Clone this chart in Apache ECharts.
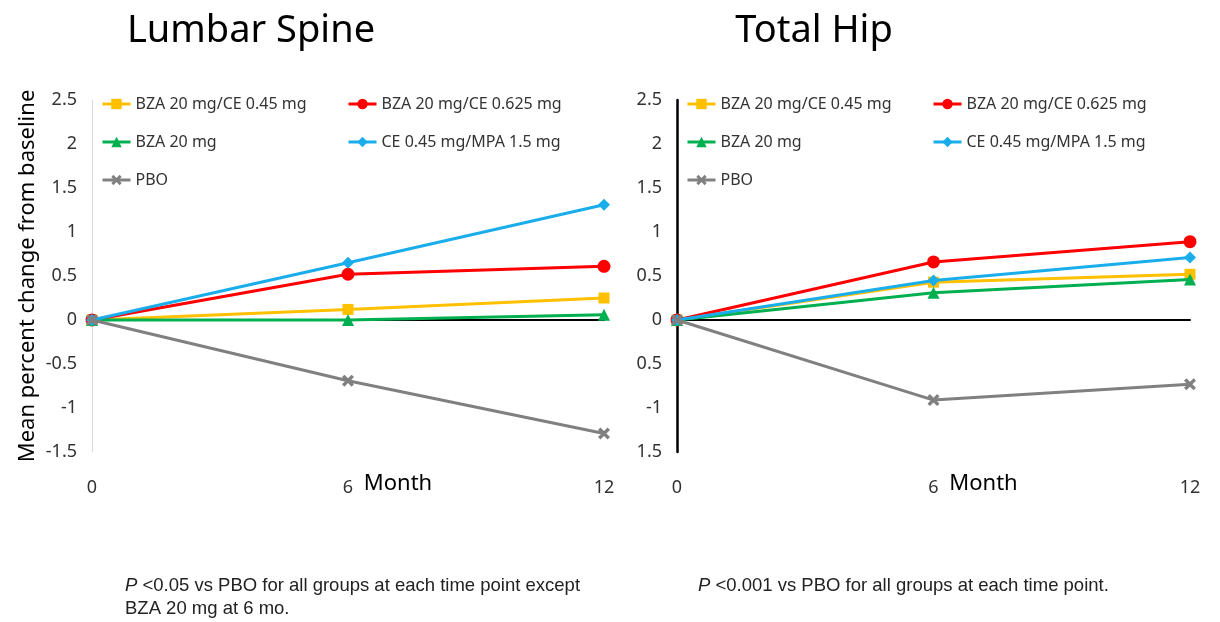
<!DOCTYPE html>
<html>
<head>
<meta charset="utf-8">
<script src="https://cdn.jsdelivr.net/npm/echarts@6/dist/echarts.min.js"></script>
<style>
  html, body { margin: 0; padding: 0; background: #fff; }
  #chart { width: 1220px; height: 622px; }
</style>
</head>
<body>
<div id="chart"></div>
<script>
// Months since baseline
const months = [0, 6, 12];

// Series names
const groupNames = [
  'BZA 20 mg/CE 0.45 mg',
  'BZA 20 mg/CE 0.625 mg',
  'BZA 20 mg',
  'CE 0.45 mg/MPA 1.5 mg',
  'PBO'
];

// Lumbar spine: mean percent change from baseline
const spineBza045 = [0, 0.12, 0.25];
const spineBza0625 = [0, 0.52, 0.61];
const spineBza20 = [0, 0.00, 0.06];
const spineCeMpa = [0, 0.65, 1.31];
const spinePbo = [0, -0.69, -1.29];

// Total hip: mean percent change from baseline
const hipBza045 = [0, 0.43, 0.52];
const hipBza0625 = [0, 0.66, 0.89];
const hipBza20 = [0, 0.31, 0.46];
const hipCeMpa = [0, 0.45, 0.71];
const hipPbo = [0, -0.91, -0.73];

// Y tick values and the labels printed next to them
const yTicks = [-1.5, -1, -0.5, 0, 0.5, 1, 1.5, 2, 2.5];
const spineTickLabels = ['-1.5', '-1', '-0.5', '0', '0.5', '1', '1.5', '2', '2.5'];
const hipTickLabels = ['1.5', '-1', '0.5', '0', '0.5', '1', '1.5', '2', '2.5'];

const colors = ['#FFC000', '#FF0000', '#00B050', '#1AADEB', '#808080'];
const crossPath = 'path://M2,0 L5,3 L8,0 L10,2 L7,5 L10,8 L8,10 L5,7 L2,10 L0,8 L3,5 L0,2 Z';
const symbols = ['rect', 'circle', 'triangle', 'diamond', crossPath];
const symbolSizes = [11, 13, 12, 12, 12];

const textColor = '#333';
const fontFamily = '"Noto Sans", "Liberation Sans", sans-serif';
const noteFont = '"Liberation Sans", sans-serif';

function pair(values) {
  return months.map((m, i) => [m, values[i]]);
}

function buildSeries(gridIdx, valueSets) {
  return valueSets.map((vals, k) => {
    const s = {
      name: groupNames[k],
      type: 'line',
      xAxisIndex: gridIdx,
      yAxisIndex: gridIdx,
      data: pair(vals),
      symbol: symbols[k],
      symbolSize: symbolSizes[k],
      showAllSymbol: true,
      lineStyle: { color: colors[k], width: 3 },
      itemStyle: { color: colors[k] },
      emphasis: { disabled: true },
      z: 3 + k
    };
    if (k === 0) {
      // dotted reference line at zero change
      s.markLine = {
        silent: true,
        symbol: 'none',
        label: { show: false },
        lineStyle: { color: '#000', type: [2, 1.5], width: 2 },
        data: [{ yAxis: 0 }],
        z: 2
      };
    }
    return s;
  });
}

function xAxisFor(gridIdx) {
  return {
    type: 'value',
    gridIndex: gridIdx,
    min: 0,
    max: 12,
    interval: 6,
    axisLine: { show: true, lineStyle: { color: '#000', width: 2 } },
    axisTick: { show: false },
    splitLine: { show: false },
    axisLabel: { color: textColor, fontSize: 18, margin: 27, fontFamily },
    name: 'Month',
    nameLocation: 'middle',
    nameGap: 21,
    nameMoveOverlap: false,
    nameTextStyle: { color: '#000', fontSize: 22, fontFamily, padding: [0, 0, 0, 100] }
  };
}

function yAxisFor(gridIdx, labels, lineColor, lineWidth) {
  return {
    type: 'value',
    gridIndex: gridIdx,
    min: -1.5,
    max: 2.5,
    interval: 0.5,
    axisLine: { show: true, onZero: false, lineStyle: { color: lineColor, width: lineWidth } },
    axisTick: { show: false },
    splitLine: { show: false },
    axisLabel: {
      color: textColor,
      fontSize: 18,
      margin: 15,
      fontFamily,
      formatter: (v) => {
        const i = yTicks.findIndex(t => Math.abs(t - v) < 1e-9);
        return i >= 0 ? labels[i] : '';
      }
    }
  };
}

function legendsFor(col1Left, col2Left) {
  const common = {
    orient: 'vertical',
    top: 96,
    padding: 0,
    itemWidth: 28,
    itemHeight: 13,
    itemGap: 22,
    selectedMode: false,
    lineStyle: { width: 3 },
    textStyle: { color: textColor, fontSize: 16, fontFamily }
  };
  return [
    Object.assign({}, common, { left: col1Left, data: [groupNames[0], groupNames[2], groupNames[4]] }),
    Object.assign({}, common, { left: col2Left, data: [groupNames[1], groupNames[3]] })
  ];
}

const chart = echarts.init(document.getElementById('chart'), null, { renderer: 'canvas' });

chart.setOption({
  backgroundColor: '#fff',
  animation: false,
  color: colors,
  title: [
    { text: 'Lumbar Spine', left: 246, top: 7, textAlign: 'center',
      textStyle: { color: '#000', fontSize: 38, fontWeight: 'normal', fontFamily } },
    { text: 'Total Hip', left: 809, top: 7, textAlign: 'center',
      textStyle: { color: '#000', fontSize: 38, fontWeight: 'normal', fontFamily } }
  ],
  legend: legendsFor(101, 347).concat(legendsFor(686, 932)),
  grid: [
    { left: 92, width: 512, top: 100, height: 352 },
    { left: 677, width: 513, top: 100, height: 352 }
  ],
  xAxis: [xAxisFor(0), xAxisFor(1)],
  yAxis: [
    Object.assign(yAxisFor(0, spineTickLabels, '#D9D9D9', 1), {
      name: 'Mean percent change from baseline',
      nameLocation: 'middle',
      nameGap: 53,
      nameTextStyle: { color: '#000', fontSize: 22, fontFamily }
    }),
    yAxisFor(1, hipTickLabels, '#000', 2.5)
  ],
  series: buildSeries(0, [spineBza045, spineBza0625, spineBza20, spineCeMpa, spinePbo])
    .concat(buildSeries(1, [hipBza045, hipBza0625, hipBza20, hipCeMpa, hipPbo])),
  graphic: [
    {
      type: 'text', left: 125, top: 574,
      style: {
        text: '{i|P} <0.05 vs PBO for all groups at each time point except\nBZA 20 mg at 6 mo.',
        fill: '#222', fontSize: 18.5, lineHeight: 23, fontFamily: noteFont,
        rich: { i: { fontStyle: 'italic', fontSize: 18.5, fill: '#222', fontFamily: noteFont } }
      }
    },
    {
      type: 'text', left: 698, top: 574,
      style: {
        text: '{i|P} <0.001 vs PBO for all groups at each time point.',
        fill: '#222', fontSize: 18.5, lineHeight: 23, fontFamily: noteFont,
        rich: { i: { fontStyle: 'italic', fontSize: 18.5, fill: '#222', fontFamily: noteFont } }
      }
    }
  ]
});
</script>
</body>
</html>
